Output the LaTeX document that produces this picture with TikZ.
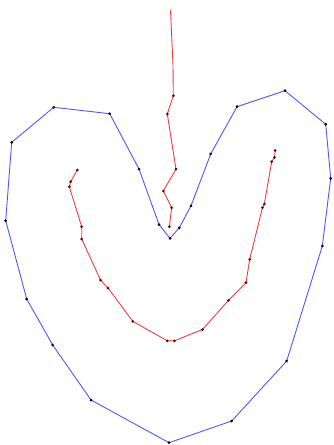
\documentclass[tikz,border=0pt]{standalone}
\begin{document}
\begin{tikzpicture}[x=1pt,y=-1pt,
  bluepath/.style={draw={rgb,255:red,85;green,85;blue,255},line width=0.9pt,line join=round},
  redpath/.style={draw={rgb,255:red,245;green,60;blue,60},line width=0.9pt,line join=round},
  bdot/.style={circle,fill=black,inner sep=0pt,minimum size=3pt},
  rdot/.style={circle,fill={rgb,255:red,90;green,10;blue,10},inner sep=0pt,minimum size=3pt}]
\useasboundingbox (0,0) rectangle (333,445);
% blue loop points
\foreach \n/\x/\y in {1/170/238.3,2/159/224.5,3/139/169,4/109.7/113.7,5/53.7/107.3,6/11.7/142.3,7/5.7/220.7,8/26.7/299,9/52.7/345,10/91/400,11/169/442.7,12/231.7/421,13/286.7/361,14/322.3/246,15/330.7/178.3,16/325.7/124.3,17/285/90.7,18/237/106.7,19/210.7/154,20/191/205.8,21/179.3/227.8}
  \coordinate (b\n) at (\x,\y);
% red stem points
\foreach \n/\x/\y in {0/170.5/10,1/173/65,2/173.3/95.7,3/167.3/114,4/176/169.2,5/163.3/191,6/171.7/207.7,7/169.3/226.7}
  \coordinate (s\n) at (\x,\y);
% red spiral points
\foreach \n/\x/\y in {1/77.3/170,2/70.7/181.7,3/69.3/186.7,4/81.7/226.7,5/81.7/239,6/100.5/280,7/108/288,8/132.8/321.3,9/167.3/340.8,10/174.5/340.8,11/202.5/329.5,12/228.5/300.3,13/246/282.7,14/249.7/259.3,15/262.5/207.5,16/264.3/204,17/271.7/161.7,18/274.5/157.3,19/275.2/150.5}
  \coordinate (r\n) at (\x,\y);
\draw[bluepath] (b1)--(b2)--(b3)--(b4)--(b5)--(b6)--(b7)--(b8)--(b9)--(b10)--(b11)--(b12)--(b13)--(b14)--(b15)--(b16)--(b17)--(b18)--(b19)--(b20)--(b21)--cycle;
\draw[redpath] (s0)--(s1)--(s2)--(s3)--(s4)--(s5)--(s6)--(s7);
\draw[redpath] (r1)--(r2)--(r3)--(r4)--(r5)--(r6)--(r7)--(r8)--(r9)--(r10)--(r11)--(r12)--(r13)--(r14)--(r15)--(r16)--(r17)--(r18)--(r19);
\foreach \n in {1,...,21} \node[bdot] (bd\n) at (b\n) {};
\foreach \n in {2,...,7} \node[rdot] (sd\n) at (s\n) {};
\foreach \n in {1,...,19} \node[rdot] (rd\n) at (r\n) {};
\end{tikzpicture}
\end{document}
